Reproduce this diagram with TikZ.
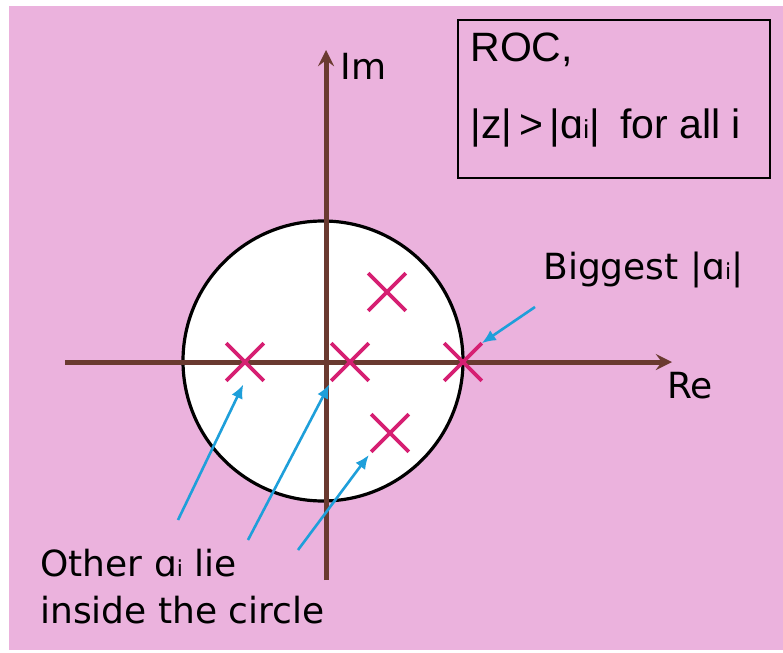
\documentclass[tikz,border=0pt]{standalone}
\usepackage{fontspec}
\setmainfont{DejaVu Sans}
\newfontfamily\boxfont{Liberation Sans}
\usepackage{xcolor}
\usetikzlibrary{shapes.misc,arrows.meta}
\definecolor{bgpink}{HTML}{EBB2DD}
\definecolor{axisbrown}{HTML}{6A3A30}
\definecolor{polered}{HTML}{D61F72}
\definecolor{pointblue}{HTML}{1E9FDA}

\tikzset{
  axis/.style={axisbrown,line width=2.5pt,-stealth},
  pole/.style={cross out,draw=polered,line width=1.8pt,minimum size=17pt,inner sep=0pt},
  pointer/.style={pointblue,line width=1.3pt,-{Latex[length=7pt,width=6pt]}},
  lab/.style={font=\fontsize{18}{20}\selectfont,inner sep=0pt},
  boxlab/.style={font=\boxfont\fontsize{20.5}{22}\selectfont,anchor=west,inner sep=0pt}
}
\newcommand{\ai}{ɑ{\fontsize{11}{12}\selectfont i}}
\newcommand{\aibox}{ɑ{\fontsize{13}{14}\selectfont i}}

\begin{document}
\begin{tikzpicture}[x=0.5pt,y=-0.5pt]
  \useasboundingbox (0,0) rectangle (783,653);
  \fill[white] (0,0) rectangle (783,653);
  \fill[bgpink] (9,6) rectangle (783,650);
  % region of convergence
  \node[circle,draw=black,fill=white,line width=1.6pt,minimum size=140pt,inner sep=0pt] (roc) at (323,361) {};
  % axes
  \coordinate (reL) at (65,362);
  \coordinate (reR) at (672,362);
  \coordinate (imB) at (326,580);
  \coordinate (imT) at (326,50);
  \draw[axis] (reL) -- (reR);
  \draw[axis] (imB) -- (imT);
  \node[lab,anchor=west] (im) at (340,66) {Im};
  \node[lab,anchor=west] (re) at (667,386) {Re};
  % poles
  \node[pole] (p1) at (245,362) {};
  \node[pole] (p2) at (350,362) {};
  \node[pole] (p3) at (463,362) {};
  \node[pole] (p4) at (387,292) {};
  \node[pole] (p5) at (390,433) {};
  % box
  \node[draw=black,line width=1.4pt,minimum width=156pt,minimum height=79pt,inner sep=0pt] (box) at (614,99) {};
  \node[boxlab] (roctxt) at (470,50) {ROC,};
  \node[boxlab] (cond) at (470,128) {|z|\,>\,|\aibox|\enspace for all i};
  % labels
  \node[lab,anchor=west] (big) at (543,270) {Biggest |\ai|};
  \node[lab,anchor=west] (oth1) at (40,563) {Other \ai{} lie};
  \node[lab,anchor=west] (oth2) at (40,610) {inside the circle};
  \coordinate (t0) at (535,307);
  \coordinate (t1) at (178,520);
  \coordinate (t2) at (248,540);
  \coordinate (t3) at (298,550);
  \draw[pointer] (t0) -- (p3.north east);
  \draw[pointer,shorten >=2pt] (t1) -- (p1.south);
  \draw[pointer,shorten >=2pt] (t2) -- (p2.south west);
  \draw[pointer,shorten >=2pt] (t3) -- (p5.south west);
\end{tikzpicture}
\end{document}
